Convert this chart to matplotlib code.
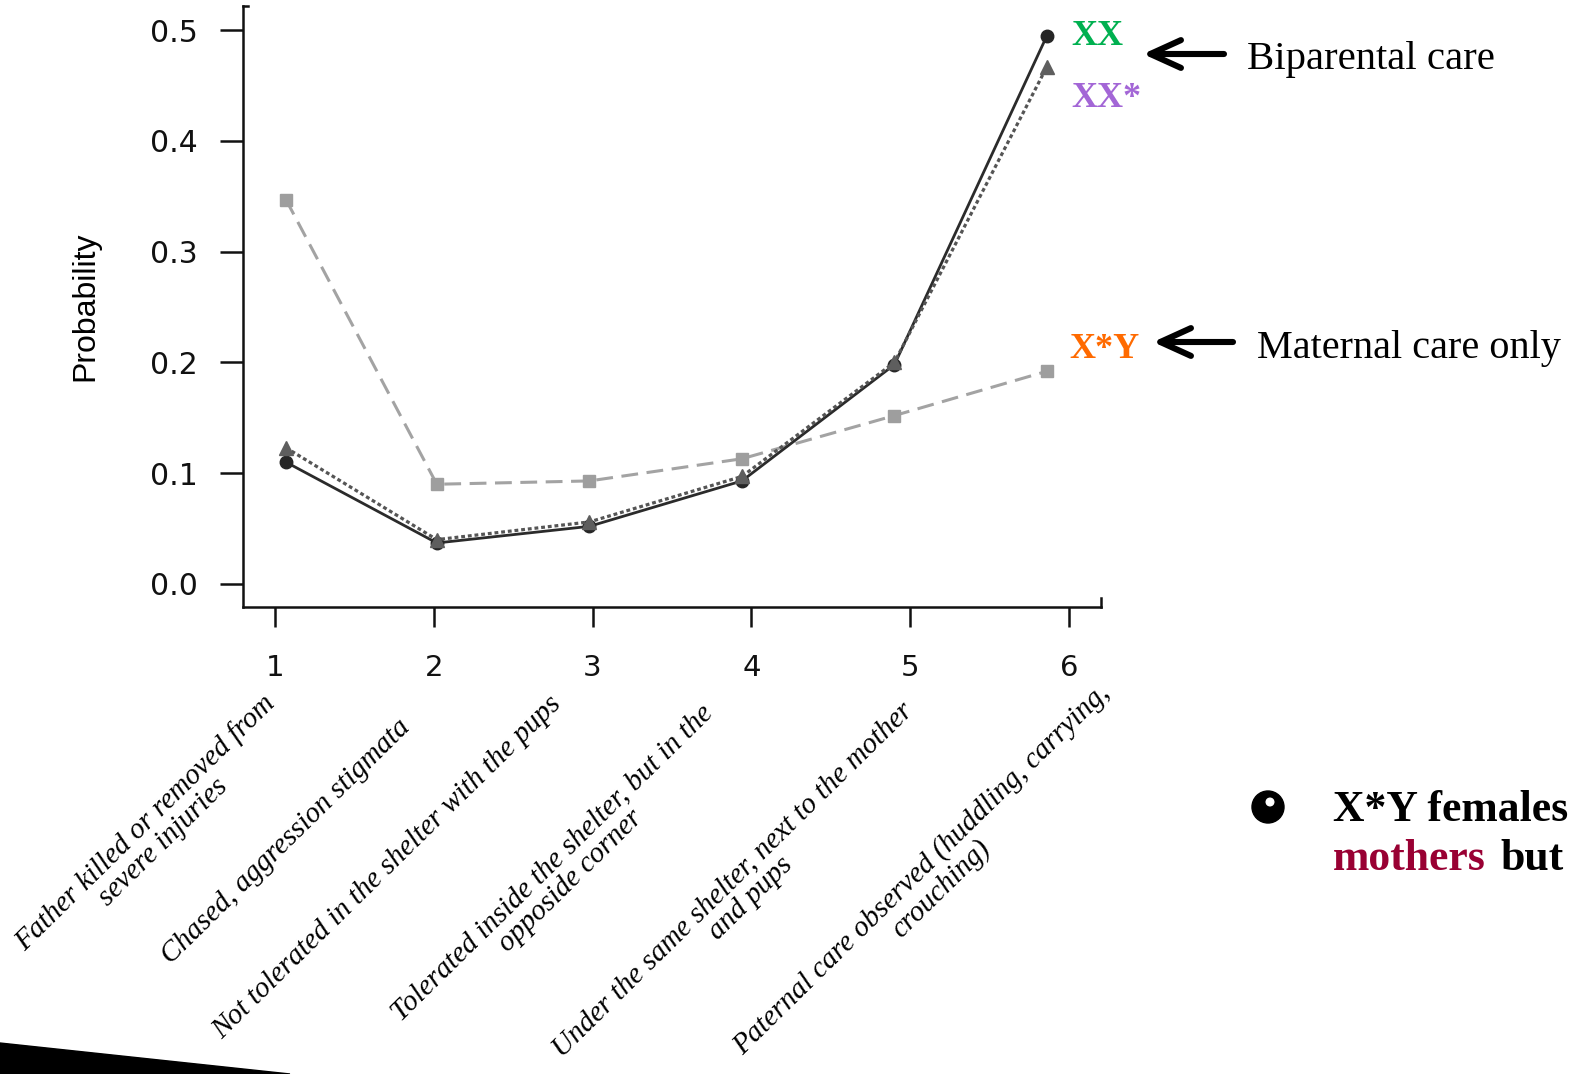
import math
import matplotlib
matplotlib.use("Agg")
import matplotlib.pyplot as plt
from matplotlib.patches import Polygon, Circle
from matplotlib.font_manager import FontProperties

# ---------------- data ----------------
tick_positions = [1, 2, 3, 4, 5, 6]
tick_labels = ["1", "2", "3", "4", "5", "6"]
point_positions = [1.07, 2.02, 2.98, 3.94, 4.90, 5.86]

xx_values = [0.110, 0.037, 0.052, 0.093, 0.198, 0.495]        # XX  (solid, circles)
xxstar_values = [0.123, 0.040, 0.056, 0.097, 0.200, 0.467]    # XX* (dotted, triangles)
xstary_values = [0.347, 0.090, 0.093, 0.113, 0.152, 0.192]    # X*Y (dashed, squares)

y_ticks = [0.0, 0.1, 0.2, 0.3, 0.4, 0.5]
y_tick_labels = ["0.0", "0.1", "0.2", "0.3", "0.4", "0.5"]

categories = [
    "Father killed or removed from\nsevere injuries",
    "Chased, aggression stigmata",
    "Not tolerated in the shelter with the pups",
    "Tolerated inside the shelter, but in the\nopposide corner",
    "Under the same shelter, next to the mother\nand pups",
    "Paternal care observed (huddling, carrying,\ncrouching)",
]

W, H = 1575, 1074
fig = plt.figure(figsize=(W / 100, H / 100), dpi=100)
fig.patch.set_facecolor("white")

# ---------------- main axes ----------------
L, R, T, B = 243, 1101, 6, 607
ax = fig.add_axes([L / W, 1 - B / H, (R - L) / W, (B - T) / H])
ax.set_xlim(0.8, 6.2)
ax.set_ylim(-0.0208, 0.5217)

ax.plot(point_positions, xstary_values, linestyle=(0, (5.5, 2.8)), color="#a3a3a3",
        linewidth=2.2, marker="s", markersize=8.5, markerfacecolor="#9e9e9e",
        markeredgecolor="#9e9e9e", zorder=2)
ax.plot(point_positions, xx_values, linestyle="-", color="#2b2b2b",
        linewidth=2.0, marker="o", markersize=9, markerfacecolor="#262626",
        markeredgecolor="#262626", zorder=3)
ax.plot(point_positions, xxstar_values, linestyle=(0, (1.2, 0.9)), color="#555555",
        linewidth=2.3, marker="^", markersize=10.5, markerfacecolor="#5e5e5e",
        markeredgecolor="#5e5e5e", zorder=4)

for s in ["top", "right"]:
    ax.spines[s].set_visible(False)
for s in ["left", "bottom"]:
    ax.spines[s].set_linewidth(1.8)
    ax.spines[s].set_color("#111111")

ax.set_xticks(tick_positions)
ax.set_xticklabels(tick_labels, fontfamily="DejaVu Sans", fontsize=21)
ax.set_yticks(y_ticks)
ax.set_yticklabels(y_tick_labels, fontfamily="DejaVu Sans", fontsize=21.5)
ax.tick_params(axis="x", length=14.5, width=1.8, pad=19, direction="out", colors="#111111")
ax.tick_params(axis="y", length=16.5, width=1.8, pad=16, direction="out", colors="#111111")
ax.set_ylabel("Probability", fontfamily="Liberation Sans", fontsize=23)
ax.yaxis.set_label_coords(-(L - 100) / (R - L), 1 - (306 - T) / (B - T))

# small corner ticks (R-style box ends)
ax.plot([1, 1], [0, 0.015], transform=ax.transAxes, color="#111111", lw=1.8, clip_on=False)
ax.plot([0, 0.006], [1, 1], transform=ax.transAxes, color="#111111", lw=1.8, clip_on=False)

# ---------------- overlay in pixel coordinates ----------------
ov = fig.add_axes([0, 0, 1, 1], facecolor="none")
ov.set_xlim(0, W)
ov.set_ylim(H, 0)
ov.axis("off")

# rotated category labels: each line is its own text (first line right-anchored,
# following lines centred under it)
ANGLE = 44.5
th = math.radians(ANGLE)
along = (math.cos(th), -math.sin(th))   # text direction in pixel coords (y down)
down = (math.sin(th), math.cos(th))     # perpendicular "down" in pixel coords
fp = FontProperties(family="Liberation Serif", style="italic", size=21)
renderer = fig.canvas.get_renderer()
_, lp_h, lp_d = renderer.get_text_width_height_descent("lp", fp, ismath=False)

first_line_ends = [(276, 705), (411, 729), (562, 705), (714, 714), (914, 712), (1111, 694)]
text_kw = dict(rotation=ANGLE, rotation_mode="anchor", va="baseline",
               fontproperties=fp, color="black")
for txt, (px, py) in zip(categories, first_line_ends):
    lines = txt.split("\n")
    w1, h1, d1 = renderer.get_text_width_height_descent(lines[0], fp, ismath=False)
    ov.text(px, py, lines[0], ha="right", **text_kw)
    cx = px - along[0] * w1 / 2
    cy = py - along[1] * w1 / 2
    prev_d = max(d1, lp_d)
    for line in lines[1:]:
        w2, h2, d2 = renderer.get_text_width_height_descent(line, fp, ismath=False)
        dl = prev_d + max(lp_h - lp_d, max(h2, lp_h) - max(d2, lp_d))
        cx += down[0] * dl
        cy += down[1] * dl
        ov.text(cx, cy, line, ha="center", **text_kw)
        prev_d = max(d2, lp_d)

# genotype labels
ov.text(1071, 45, "XX", color="#00b050", fontfamily="Liberation Serif",
        fontweight="bold", fontsize=26, ha="left", va="baseline")
ov.text(1071, 107, "XX*", color="#a366d6", fontfamily="Liberation Serif",
        fontweight="bold", fontsize=26, ha="left", va="baseline")
ov.text(1069, 358, "X*Y", color="#ff6a00", fontfamily="Liberation Serif",
        fontweight="bold", fontsize=26, ha="left", va="baseline")

# arrows
arrow_kw = dict(arrowstyle="->,head_length=1.1,head_width=0.5", lw=4.4, color="black",
                shrinkA=0, shrinkB=0, mutation_scale=20)
ov.annotate("", xy=(1143, 54), xytext=(1224, 54), arrowprops=arrow_kw)
ov.annotate("", xy=(1153, 342), xytext=(1233, 342), arrowprops=arrow_kw)

ov.text(1247, 69, "Biparental care", fontfamily="Liberation Serif", fontsize=29.3,
        ha="left", va="baseline", color="black")
ov.text(1257, 358, "Maternal care only", fontfamily="Liberation Serif", fontsize=29.0,
        ha="left", va="baseline", color="black")

# bullet and bold text at the right edge
ov.add_patch(Circle((1268, 807), 16, color="black"))
ov.add_patch(Circle((1270, 802), 3.8, color="white"))
ov.text(1333, 821, "X*Y females", fontfamily="Liberation Serif", fontweight="bold",
        fontsize=31.5, ha="left", va="baseline", color="black")
ov.text(1333, 870, "mothers", fontfamily="Liberation Serif", fontweight="bold",
        fontsize=31.5, ha="left", va="baseline", color="#990033")
ov.text(1500, 870, "but", fontfamily="Liberation Serif", fontweight="bold",
        fontsize=31.5, ha="left", va="baseline", color="black")

# black wedge decoration at bottom-left
ov.add_patch(Polygon([(0, 1043), (290, 1074), (0, 1074)], closed=True, color="black"))

fig.savefig("out.png", dpi=100, facecolor="white")
